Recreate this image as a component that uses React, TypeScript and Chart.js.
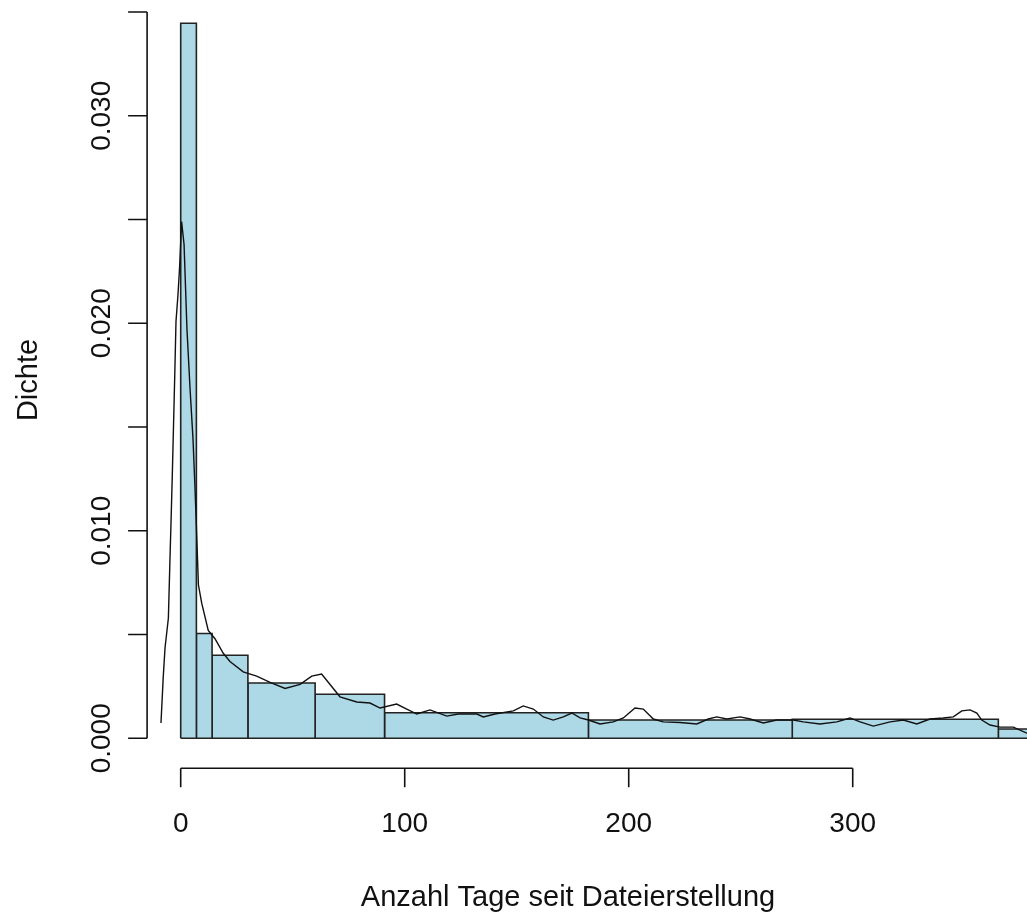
import React, { useEffect, useRef } from "react";
import { Chart, registerables } from "chart.js";

Chart.register(...registerables);

// ---- data ----
const BIN_EDGES = [0, 7, 14, 30, 60, 91, 182, 273, 365, 900];
const BIN_DENSITY = [0.03446, 0.00505, 0.0040, 0.002665, 0.00212, 0.001234, 0.000882, 0.000916, 0.000448];

const DENS_X = [-8.8, -7.8, -7.0, -5.5, -4.8, -4.3, -3.7, -2.7, -2.1, -1.2, -0.5, 0.4, 1.5, 2.8, 4.2, 5.5, 6.4, 7.3, 7.9, 9.4,
  12.3, 15.3, 19.0, 22.0, 27.9, 33.9, 39.9, 46.6, 53.3, 58.5, 62.9, 71.1, 78.6, 84.5, 89.0, 96.4, 100.9, 105.4, 111.3, 118.8,
  123.9, 132.2, 135.1, 140.3, 148.5, 152.9, 157.4, 161.9, 166.3, 170.8, 174.6, 178.3, 182.0, 187.2, 193.1, 197.6, 202.8, 206.5,
  211.0, 215.4, 222.9, 230.4, 235.5, 239.3, 243.8, 249.7, 254.2, 260.1, 266.1, 273.5, 277.9, 285.4, 292.9, 298.8, 303.3, 309.2,
  316.7, 322.6, 328.6, 334.5, 340.4, 344.9, 348.7, 352.4, 355.4, 357.6, 361.3, 365.8, 371.7, 377.7, 385];
const DENS_Y = [0.00074, 0.00295, 0.00435, 0.0058, 0.0086, 0.0105, 0.0129, 0.0173, 0.0201, 0.0214, 0.0227, 0.0249, 0.0238, 0.0197,
  0.0168, 0.0144, 0.0120, 0.0093, 0.0074, 0.0065, 0.0052, 0.0048, 0.0041, 0.0037, 0.0032, 0.0030, 0.0027, 0.0024, 0.0026, 0.0030,
  0.0031, 0.0020, 0.00175, 0.0017, 0.00146, 0.00165, 0.00141, 0.00117, 0.00137, 0.00107, 0.00117, 0.00117, 0.00103, 0.00117,
  0.00132, 0.00156, 0.00141, 0.00103, 0.00088, 0.00103, 0.00122, 0.00098, 0.00088, 0.00069, 0.00079, 0.00098, 0.00146, 0.00141,
  0.00093, 0.00079, 0.00076, 0.00069, 0.00093, 0.00103, 0.00093, 0.00103, 0.00093, 0.00074, 0.00088, 0.00088, 0.00079, 0.00069,
  0.00079, 0.00098, 0.00079, 0.00059, 0.00079, 0.00088, 0.00069, 0.00093, 0.00098, 0.00103, 0.00132, 0.00137, 0.00122, 0.00088,
  0.00064, 0.00054, 0.00054, 0.00025, 0.0002];

const X_TICKS = [0, 100, 200, 300];
const X_TICK_LABELS = ["0", "100", "200", "300"];
const Y_TICKS = [0, 0.005, 0.01, 0.015, 0.02, 0.025, 0.03, 0.035];
const Y_TICK_LABELS = ["0.000", "", "0.010", "", "0.020", "", "0.030", ""];
const X_TITLE = "Anzahl Tage seit Dateierstellung";
const Y_TITLE = "Dichte";

// ---- layout ----
const W = 1027;
const H = 913;
const X_MIN = -80.67;
const X_MAX = 377.8;
const Y_MIN = -0.008419;
const Y_MAX = 0.035581;
const Y_AXIS_AT = -15; // data x where the y axis is drawn
const X_AXIS_AT = -0.001446; // data y where the x axis is drawn
const FONT = '"Liberation Sans", Arial, sans-serif';

const axesPlugin = {
  id: "rAxes",
  afterDraw(chart: any) {
    const ctx = chart.ctx;
    const xs = chart.scales.x;
    const ys = chart.scales.y;
    ctx.save();
    ctx.strokeStyle = "#111";
    ctx.fillStyle = "#111";
    ctx.lineWidth = 1.6;
    // y axis
    const ax = xs.getPixelForValue(Y_AXIS_AT);
    ctx.beginPath();
    ctx.moveTo(ax, ys.getPixelForValue(Y_TICKS[0]));
    ctx.lineTo(ax, ys.getPixelForValue(Y_TICKS[Y_TICKS.length - 1]));
    Y_TICKS.forEach((t) => {
      const py = ys.getPixelForValue(t);
      ctx.moveTo(ax, py);
      ctx.lineTo(ax - 19, py);
    });
    ctx.stroke();
    ctx.font = `28px ${FONT}`;
    ctx.textAlign = "center";
    ctx.textBaseline = "alphabetic";
    Y_TICKS.forEach((t, i) => {
      const lab = Y_TICK_LABELS[i];
      if (!lab) return;
      const py = ys.getPixelForValue(t);
      ctx.save();
      ctx.translate(ax - 37, py);
      ctx.rotate(-Math.PI / 2);
      ctx.fillText(lab, 0, 0);
      ctx.restore();
    });
    // x axis
    const ay = ys.getPixelForValue(X_AXIS_AT);
    ctx.beginPath();
    ctx.moveTo(xs.getPixelForValue(X_TICKS[0]), ay);
    ctx.lineTo(xs.getPixelForValue(X_TICKS[X_TICKS.length - 1]), ay);
    X_TICKS.forEach((t) => {
      const px = xs.getPixelForValue(t);
      ctx.moveTo(px, ay);
      ctx.lineTo(px, ay + 19);
    });
    ctx.stroke();
    X_TICKS.forEach((t, i) => {
      ctx.fillText(X_TICK_LABELS[i], xs.getPixelForValue(t), ay + 64);
    });
    // titles
    ctx.font = `29px ${FONT}`;
    ctx.fillText(X_TITLE, 568, 906);
    ctx.save();
    ctx.translate(37, 380);
    ctx.rotate(-Math.PI / 2);
    ctx.fillText(Y_TITLE, 0, 0);
    ctx.restore();
    ctx.restore();
  },
};

export default function App() {
  const ref = useRef<HTMLCanvasElement | null>(null);
  useEffect(() => {
    if (!ref.current) return;
    const barSets = BIN_DENSITY.map((h, i) => {
      const x0 = BIN_EDGES[i];
      const x1 = BIN_EDGES[i + 1];
      return {
        type: "line" as const,
        data: [
          { x: x0, y: 0 },
          { x: x0, y: h },
          { x: x1, y: h },
          { x: x1, y: 0 },
        ],
        borderColor: "#222",
        borderWidth: 1.6,
        backgroundColor: "#ADD8E6",
        fill: "origin",
        pointRadius: 0,
        tension: 0,
        order: 1,
      };
    });
    const baseSet = {
      type: "line" as const,
      data: [
        { x: BIN_EDGES[0], y: 0 },
        { x: BIN_EDGES[BIN_EDGES.length - 1], y: 0 },
      ],
      borderColor: "#222",
      borderWidth: 1.6,
      fill: false,
      pointRadius: 0,
      order: 0.5,
    };
    const densSet = {
      type: "line" as const,
      data: DENS_X.map((x, i) => ({ x, y: DENS_Y[i] })),
      borderColor: "#111",
      borderWidth: 1.4,
      fill: false,
      pointRadius: 0,
      tension: 0,
      order: 0,
    };
    const chart = new Chart(ref.current, {
      type: "line",
      data: { datasets: [densSet, baseSet, ...barSets] as any },
      options: {
        responsive: false,
        animation: false,
        devicePixelRatio: 1,
        layout: { padding: 0 },
        plugins: { legend: { display: false }, tooltip: { enabled: false }, title: { display: false } },
        scales: {
          x: { type: "linear", min: X_MIN, max: X_MAX, display: false },
          y: { type: "linear", min: Y_MIN, max: Y_MAX, display: false },
        },
      },
      plugins: [axesPlugin],
    });
    return () => chart.destroy();
  }, []);
  return (
    <div style={{ position: "fixed", left: 0, top: 0, width: W, height: H, background: "#fff" }}>
      <canvas ref={ref} width={W} height={H} style={{ width: W, height: H, display: "block" }} />
    </div>
  );
}
